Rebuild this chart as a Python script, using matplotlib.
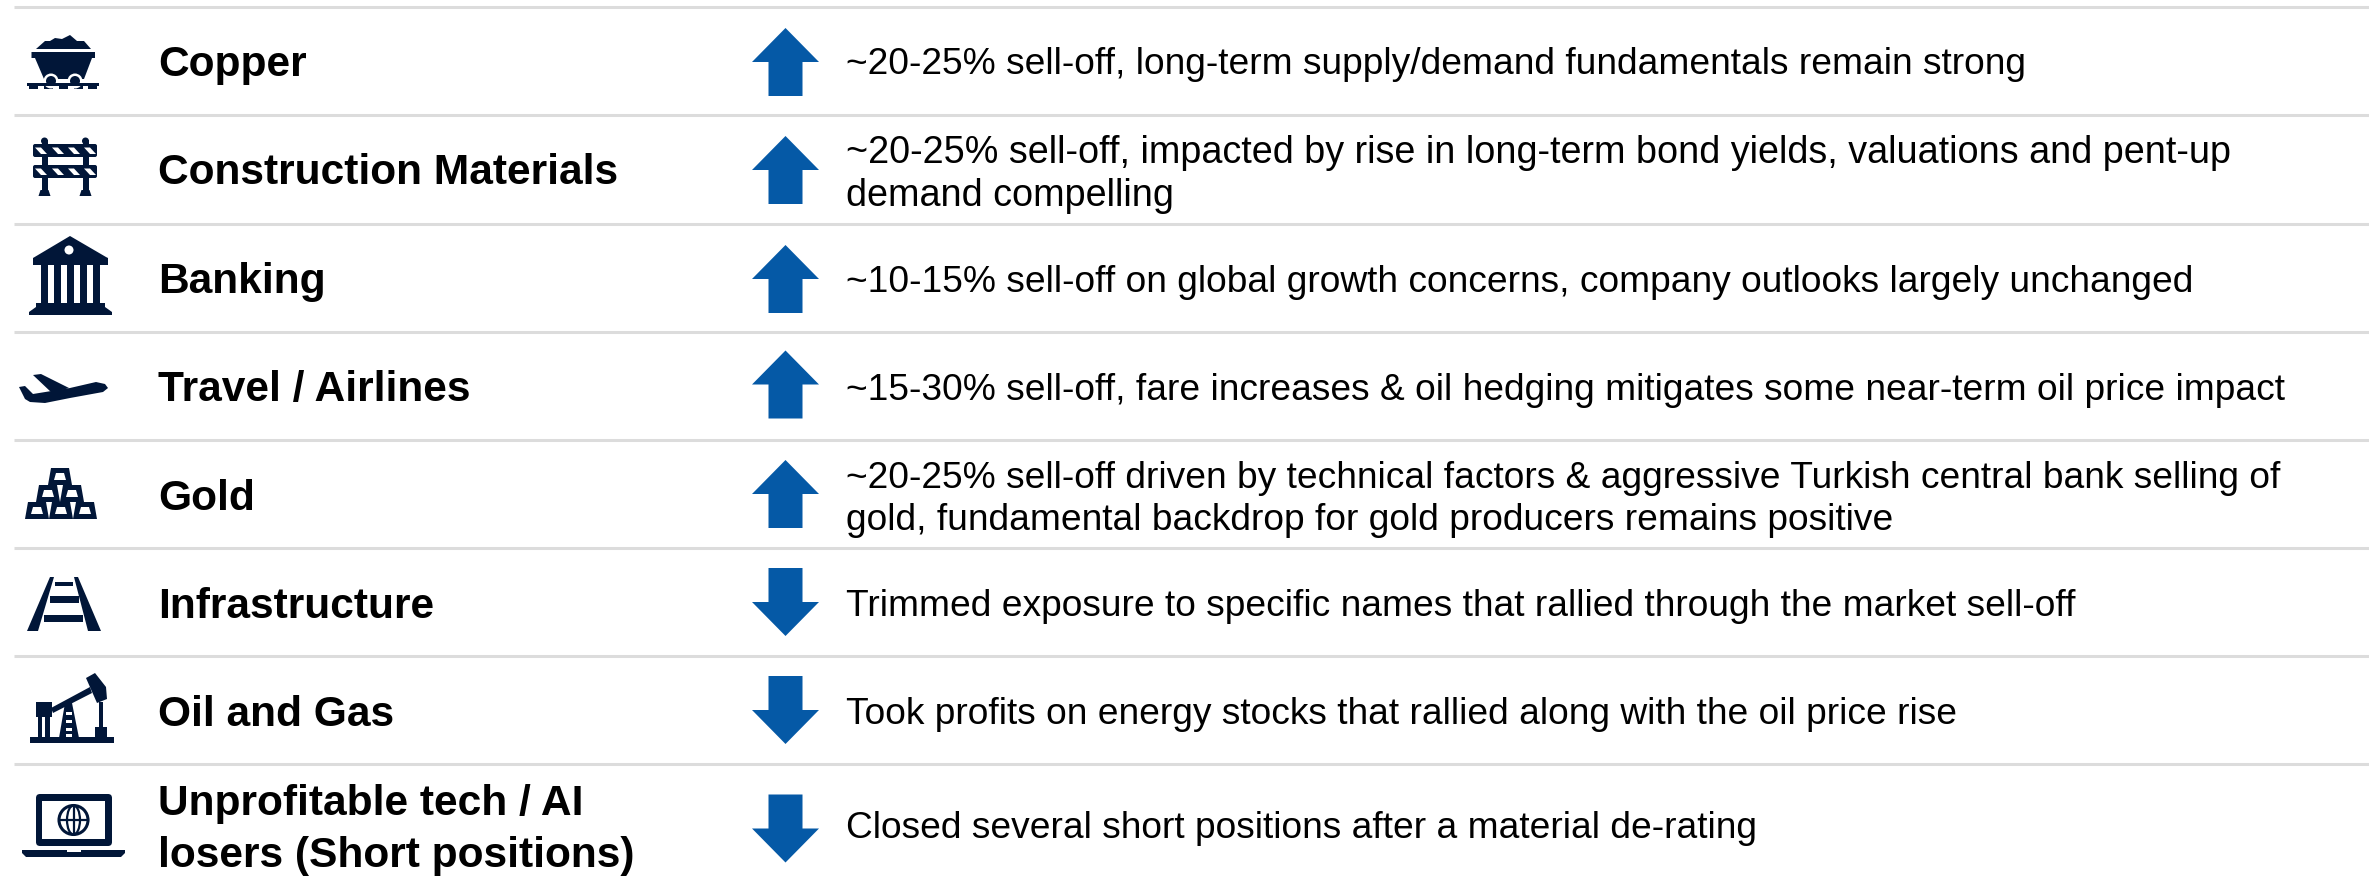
import numpy as np
import matplotlib
matplotlib.use("Agg")
import matplotlib.pyplot as plt
from matplotlib.patches import Polygon, Circle, Rectangle, FancyBboxPatch, Ellipse

W, H = 2369, 881
NAVY = "#011638"
BLUE = "#0559A6"
RULE = "#DCDCDC"

labels = ["Copper", "Construction Materials", "Banking", "Travel / Airlines", "Gold",
          "Infrastructure", "Oil and Gas", "Unprofitable tech / AI\nlosers (Short positions)"]
directions = [1, 1, 1, 1, 1, -1, -1, -1]
comments = [
    "~20-25% sell-off, long-term supply/demand fundamentals remain strong",
    "~20-25% sell-off, impacted by rise in long-term bond yields, valuations and pent-up\ndemand compelling",
    "~10-15% sell-off on global growth concerns, company outlooks largely unchanged",
    "~15-30% sell-off, fare increases & oil hedging mitigates some near-term oil price impact",
    "~20-25% sell-off driven by technical factors & aggressive Turkish central bank selling of\ngold, fundamental backdrop for gold producers remains positive",
    "Trimmed exposure to specific names that rallied through the market sell-off",
    "Took profits on energy stocks that rallied along with the oil price rise",
    "Closed several short positions after a material de-rating",
]
comment_sizes = [26.78, 27.15, 26.78, 26.78, 26.78, 26.78, 26.78, 26.78]
rule_y = [6.5, 115, 223.5, 331.5, 439.5, 548, 656, 764]
comment_y = [65, 174.5, 282, 390, 499.5, 606.5, 714.5, 829]
label_y = [65, 173.5, 282, 390, 498.5, 606.5, 714.5, 830]
arrow_y = [62, 170, 279, 384.5, 494, 602, 710, 828.5]

plt.rcParams["font.family"] = ["Liberation Sans", "DejaVu Sans"]
fig = plt.figure(figsize=(W / 100, H / 100), dpi=100, facecolor="white")
ax = fig.add_axes([0, 0, 1, 1])
ax.set_xlim(0, W)
ax.set_ylim(H, 0)
ax.axis("off")


def poly(pts, fc=NAVY, z=3):
    ax.add_patch(Polygon(pts, closed=True, fc=fc, ec="none", zorder=z))


def rect(x0, y0, x1, y1, fc=NAVY, z=3):
    ax.add_patch(Rectangle((x0, y0), x1 - x0, y1 - y0, fc=fc, ec="none", zorder=z))


def circ(x, y, r, fc=NAVY, z=3):
    ax.add_patch(Circle((x, y), r, fc=fc, ec="none", zorder=z))


def icon_cart():
    poly([(36, 49), (45, 41), (50, 41), (55, 38), (62, 39), (70, 35), (77, 41), (84, 41), (91, 49)])
    poly([(31.5, 52), (95, 52), (95, 58), (92, 58), (84, 79), (44, 79), (35, 58), (31.5, 58)])
    circ(51, 81, 7.5, "white", 4)
    circ(75, 81, 7.5, "white", 4)
    circ(51, 81, 5, NAVY, 5)
    circ(75, 81, 5, NAVY, 5)
    rect(27, 83, 99, 86, NAVY, 6)
    for x in (29, 44, 59, 74, 88):
        rect(x, 85, x + 9, 88.5)


def icon_barrier():
    for x in (44.5, 85.5):
        rect(x - 3, 140, x + 3, 190)
        circ(x, 141, 3.5)
        poly([(x - 4, 190), (x + 4, 190), (x + 6, 196), (x - 6, 196)])
    for y0 in (144, 165):
        ax.add_patch(FancyBboxPatch((33, y0), 64, 13, boxstyle="round,pad=0,rounding_size=2",
                                    fc=NAVY, ec="none", zorder=3))
        for x in (35, 52, 68, 84):
            poly([(x, y0 + 3.5), (x + 6, y0 + 3.5), (x + 12, y0 + 10), (x + 6, y0 + 10)], "white", 4)


def icon_bank():
    poly([(70, 236), (106, 257), (108, 258), (108, 265), (33, 265), (33, 258)])
    circ(69, 250, 4.5, "white", 4)
    for x in (41, 54, 67, 80, 93):
        rect(x, 265, x + 7, 304)
    poly([(36, 303), (105, 303), (105, 307), (112, 312), (112, 315), (29, 315), (29, 312), (36, 307)])


def icon_plane():
    poly([(19, 387), (25, 386), (33, 394), (70, 388), (96, 382), (105, 384), (108, 388), (103, 392),
          (70, 398), (45, 403), (30, 402), (25, 399)])
    poly([(33, 375), (41, 374), (69, 388), (52, 393)])


def icon_gold():
    bars = [(48, 468, 72, 485), (36, 485, 60, 502), (60, 485, 84, 502),
            (25, 502, 49, 519), (49, 502, 73, 519), (73, 502, 97, 519)]
    for x0, y0, x1, y1 in bars:
        poly([(x0 + 3, y0), (x1 - 3, y0), (x1, y1), (x0, y1)])
        poly([(x0 + 8, y0 + 5), (x1 - 8, y0 + 5), (x1 - 6, y1 - 5), (x0 + 6, y1 - 5)], "white", 4)


def icon_track():
    poly([(50, 577), (54, 577), (38, 631), (27, 631)])
    poly([(74, 577), (78, 577), (101, 631), (88, 631)])
    rect(55, 582, 73, 586)
    rect(50, 596, 79, 603)
    rect(44, 615, 83, 622)


def icon_pump():
    rect(36, 702, 52, 717)
    rect(38, 717, 42, 738)
    rect(45, 717, 50, 738)
    poly([(51, 708), (90, 687), (92, 693), (53, 713)])
    poly([(86, 678), (95, 673), (106, 687), (107, 699), (97, 703)])
    poly([(65, 703), (72, 703), (79, 738), (59, 738)])
    for y in (712, 720, 728, 734):
        rect(66, y, 72, y + 3, "white", 4)
    rect(99, 702, 103, 728)
    rect(95, 727, 107, 738)
    rect(30, 737, 114, 743)


def icon_laptop():
    ax.add_patch(FancyBboxPatch((36, 794), 76, 52, boxstyle="round,pad=0,rounding_size=4", fc=NAVY, ec="none", zorder=3))
    rect(42, 801, 105, 839, "white", 4)
    poly([(22, 850), (125, 850), (125, 853), (121, 857), (26, 857), (22, 853)])
    rect(67, 850, 81, 852, "white", 4)
    cx, cy = 73.5, 820
    lw = 1.6
    ax.add_patch(Circle((cx, cy), 14.5, fc="none", ec=NAVY, lw=2.2, zorder=5))
    ax.add_patch(Ellipse((cx, cy), 13, 29, fc="none", ec=NAVY, lw=lw, zorder=5))
    ax.plot([cx, cx], [cy - 14, cy + 14], color=NAVY, lw=lw, zorder=5)
    ax.plot([cx - 14, cx + 14], [cy, cy], color=NAVY, lw=lw, zorder=5)


for y in rule_y:
    ax.plot([14, W], [y, y], color=RULE, lw=2.2, solid_capstyle="butt", zorder=1)

for lab, d, com, fs, ly, cy_, ay in zip(labels, directions, comments, comment_sizes, label_y, comment_y, arrow_y):
    ax.text(158, ly, lab, fontsize=30.6, fontweight="bold", color="black", va="center", ha="left",
            linespacing=1.37)
    ax.text(846, cy_, com, fontsize=fs, color="black", va="center", ha="left", linespacing=1.26)
    # block arrow: +1 points up, -1 points down
    cx = 785.5
    ax.add_patch(Polygon([(cx, ay - d * 34), (cx + 33.5, ay), (cx + 17, ay), (cx + 17, ay + d * 34),
                          (cx - 17, ay + d * 34), (cx - 17, ay), (cx - 33.5, ay)],
                         closed=True, fc=BLUE, ec="none", zorder=3))

for f in (icon_cart, icon_barrier, icon_bank, icon_plane, icon_gold, icon_track, icon_pump, icon_laptop):
    f()

fig.savefig("out.png", dpi=100, facecolor="white")
